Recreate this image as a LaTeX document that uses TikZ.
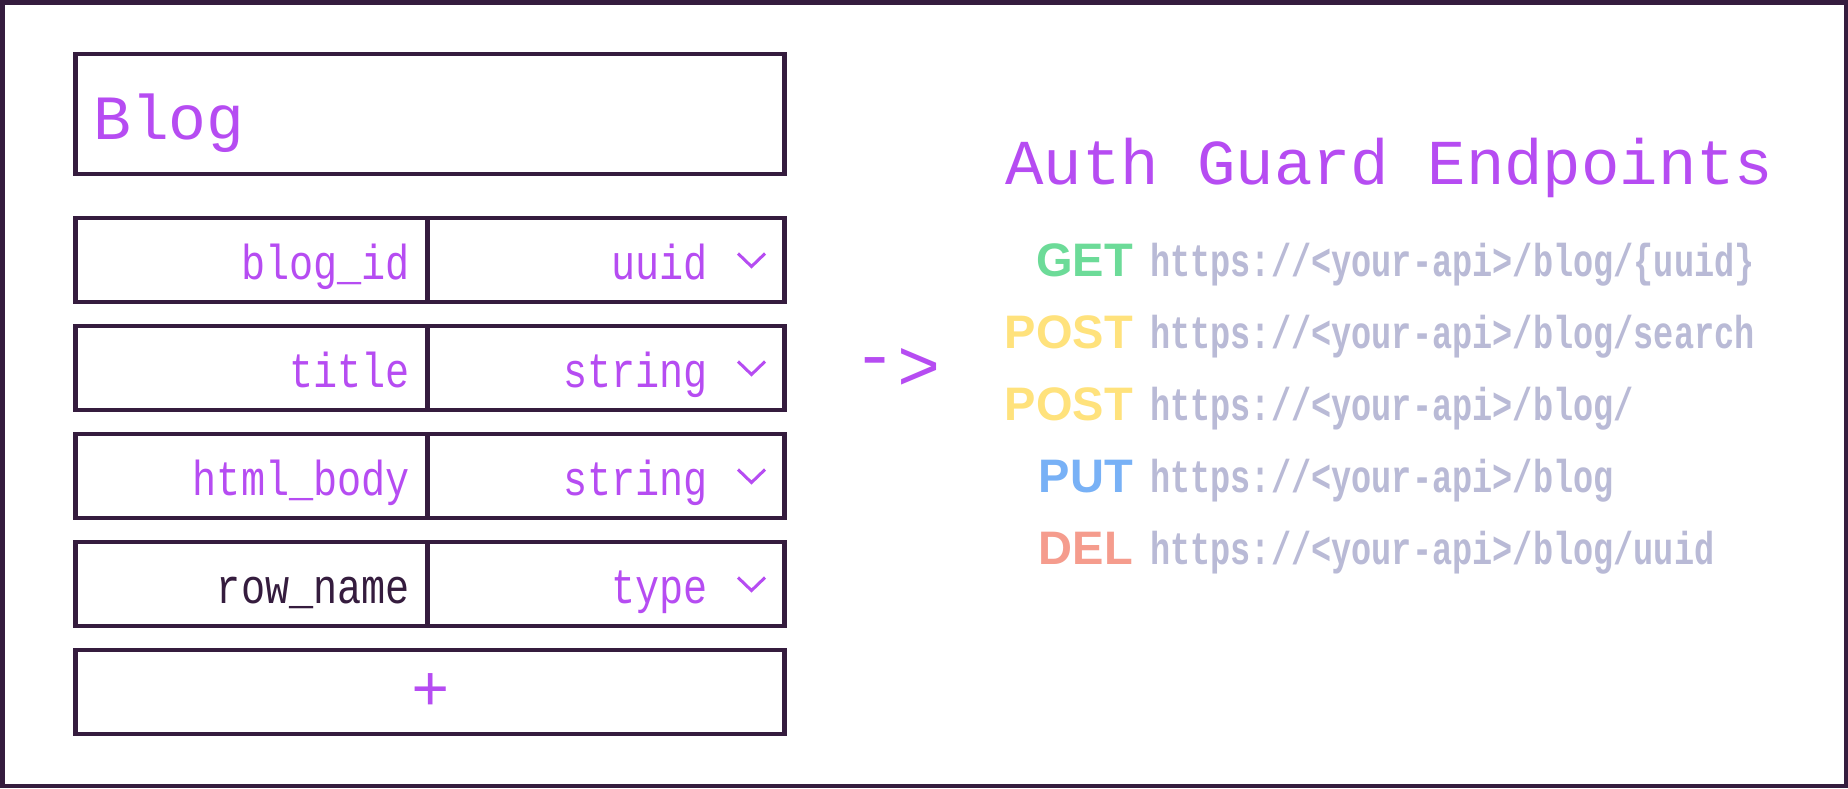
\documentclass[tikz,border=0pt]{standalone}
\usepackage{fontspec}
\usetikzlibrary{calc}
\newfontfamily\plexmono{Liberation Mono}
\newfontfamily\plexcond[FakeStretch=0.82]{Liberation Mono}
\newfontfamily\urlmono[FakeStretch=0.73]{Liberation Mono}
\newfontfamily\methodfont{Liberation Sans}
\definecolor{ink}{HTML}{351C3E}
\definecolor{accent}{HTML}{B64CF2}
\definecolor{getc}{HTML}{6CDB98}
\definecolor{postc}{HTML}{FFE27C}
\definecolor{putc}{HTML}{78B1F6}
\definecolor{delc}{HTML}{F59C8D}
\definecolor{urlc}{HTML}{B9BAD6}
\tikzset{
  frame/.style={draw=ink, line width=4.5pt, minimum width=1843.5pt, minimum height=783.5pt, inner sep=0pt, outer sep=0pt},
  rowbox/.style={draw=ink, line width=4.5pt, minimum width=709pt, minimum height=84pt, inner sep=0pt, outer sep=0pt},
  divider/.style={draw=ink, line width=4.5pt},
  fieldtxt/.style={font=\plexcond\fontsize{49}{49}\selectfont, inner sep=0pt, anchor=base east},
  chev/.style={draw=accent, line width=3pt},
  method/.style={font=\methodfont\bfseries\fontsize{47}{47}\selectfont, inner sep=0pt, anchor=base east},
  urltxt/.style={font=\urlmono\bfseries\fontsize{46}{46}\selectfont, text=urlc, inner sep=0pt, anchor=base west},
}
\begin{document}
\begin{tikzpicture}[x=1pt,y=-1pt]
\useasboundingbox (0,0) rectangle (1848,788);
\fill[white] (0,0) rectangle (1848,788);
\node[frame] (frame) at (924,394) {};

% Blog header
\node[draw=ink, line width=4.5pt, minimum width=709pt, minimum height=120pt, inner sep=0pt, outer sep=0pt] (blogbox) at (430,114) {};
\node[font=\plexmono\fontsize{63}{63}\selectfont, text=accent, inner sep=0pt, anchor=base west] (blog) at (93,139) {Blog};

% rows
\foreach \i/\y/\fname/\ftype/\fcol in {1/218/blog\_id/uuid/accent, 2/326/title/string/accent, 3/434/html\_body/string/accent, 4/542/row\_name/type/ink}{
  \node[rowbox] (row\i) at (430,\y+42) {};
  \coordinate (dt\i) at (427.5,\y);
  \coordinate (db\i) at (427.5,\y+84);
  \draw[divider] (dt\i) -- (db\i);
  \node[fieldtxt, text=\fcol] (name\i) at (410,\y+61) {\fname};
  \node[fieldtxt, text=accent] (type\i) at (708,\y+61) {\ftype};
  \draw[chev] ($(row\i.east)+(-46.5,-6.5)$) -- ++(13.5,13) -- ++(13.5,-13);
}

% add row
\node[rowbox] (addrow) at (430,692) {};
\node[font=\plexmono\fontsize{64}{64}\selectfont, text=accent, inner sep=0pt] (plus) at (431,692) {+};

% arrow
\node[font=\plexmono\fontsize{72}{72}\selectfont, text=accent, inner sep=0pt, anchor=base] (arrow) at (897,390) {\raisebox{11pt}{-}>};

% title
\node[font=\plexmono\fontsize{64}{64}\selectfont, text=accent, inner sep=0pt, anchor=base west] (title) at (1005,184) {Auth Guard Endpoints};

% endpoints
\node[method, text=getc] (m1) at (1133,276) {GET};
\node[urltxt] (u1) at (1150,276) {https://<your-api>/blog/\{uuid\}};
\node[method, text=postc] (m2) at (1133,348) {POST};
\node[urltxt] (u2) at (1150,348) {https://<your-api>/blog/search};
\node[method, text=postc] (m3) at (1133,420) {POST};
\node[urltxt] (u3) at (1150,420) {https://<your-api>/blog/};
\node[method, text=putc] (m4) at (1133,492) {PUT};
\node[urltxt] (u4) at (1150,492) {https://<your-api>/blog};
\node[method, text=delc] (m5) at (1133,564) {DEL};
\node[urltxt] (u5) at (1150,564) {https://<your-api>/blog/uuid};
\end{tikzpicture}
\end{document}
